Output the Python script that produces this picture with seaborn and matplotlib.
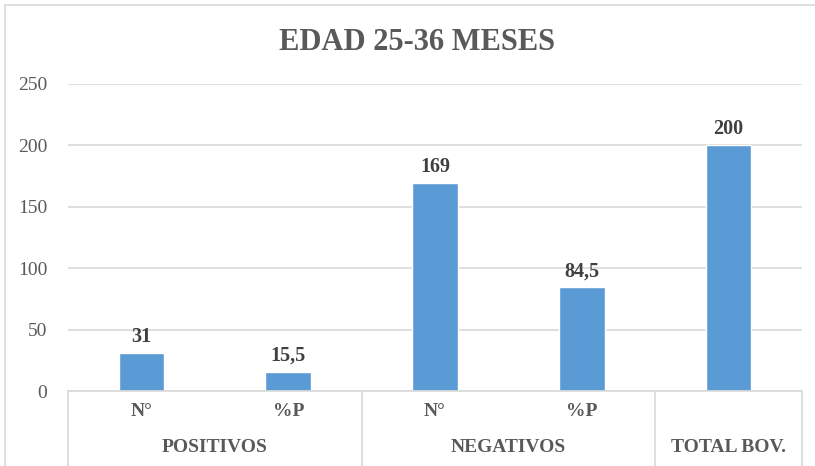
import pandas as pd
import numpy as np
import matplotlib.pyplot as plt
import seaborn as sns
from matplotlib.patches import Rectangle
from matplotlib.lines import Line2D

### Datos
grupos = ["POSITIVOS", "POSITIVOS", "NEGATIVOS", "NEGATIVOS", "TOTAL BOV."]
subcategorias = ["N°", "%P", "N°", "%P", ""]
valores = [31, 15.5, 169, 84.5, 200]
etiquetas = ["31", "15,5", "169", "84,5", "200"]

df = pd.DataFrame({"id": [f"c{i}" for i in range(len(valores))],
                   "valor": valores})

sns.set_style("white")
plt.rcParams["font.family"] = ["Liberation Serif", "DejaVu Serif"]

gris_texto = "#595959"
gris_linea = "#D9D9D9"
azul = "#5B9BD5"

fig = plt.figure(figsize=(8.15, 4.66), dpi=100)
ax = fig.add_axes([68 / 815, (466 - 391) / 466, (802 - 68) / 815, (391 - 84) / 466])

sns.barplot(data=df, x="id", y="valor", color=azul, width=0.31,
            saturation=1, ax=ax)

ax.set_ylim(0, 250)
ax.set_xlim(-0.5, len(valores) - 0.5)
ax.set_yticks(np.arange(0, 251, 50))
ax.yaxis.grid(True, color=gris_linea, linewidth=1.2)
ax.set_axisbelow(True)
for s in ax.spines.values():
    s.set_visible(False)
ax.tick_params(axis="y", length=0, pad=15, labelsize=14, labelcolor=gris_texto)
ax.set_xticks([])
ax.set_xlabel("")
ax.set_ylabel("")

# etiquetas de datos
for i, (v, t) in enumerate(zip(valores, etiquetas)):
    ax.text(i, v + 5, t, ha="center", va="bottom", fontsize=14.5,
            fontweight="bold", color="#404040")

# eje de categorías multinivel
trans = ax.get_xaxis_transform()
ax.add_line(Line2D([-0.5, len(valores) - 0.5], [0, 0], transform=trans,
                   color=gris_linea, linewidth=1.2, clip_on=False))
for xb in [-0.5, 1.5, 3.5, 4.5]:
    ax.add_line(Line2D([xb, xb], [0, -0.3], transform=trans,
                       color=gris_linea, linewidth=1.2, clip_on=False))
for i, s in enumerate(subcategorias):
    ax.text(i, -20 / 307, s, transform=trans, ha="center", va="center",
            fontsize=14, fontweight="bold", color=gris_texto)
vistos = []
for g in grupos:
    if g not in vistos:
        vistos.append(g)
for g in vistos:
    idx = [i for i, x in enumerate(grupos) if x == g]
    ax.text(np.mean(idx), -57 / 307, g, transform=trans, ha="center",
            va="center", fontsize=14, fontweight="bold", color=gris_texto)

fig.text(417 / 815, 1 - 43 / 466, "EDAD 25-36 MESES", ha="center", va="center",
         fontsize=22, fontweight="bold", color=gris_texto)

# borde del gráfico
fig.patches.append(Rectangle((5 / 815, -0.05), 815, 1.05 - 5 / 466,
                             transform=fig.transFigure, fill=False,
                             edgecolor=gris_linea, linewidth=1.2))

fig.savefig("out.png", dpi=100)
